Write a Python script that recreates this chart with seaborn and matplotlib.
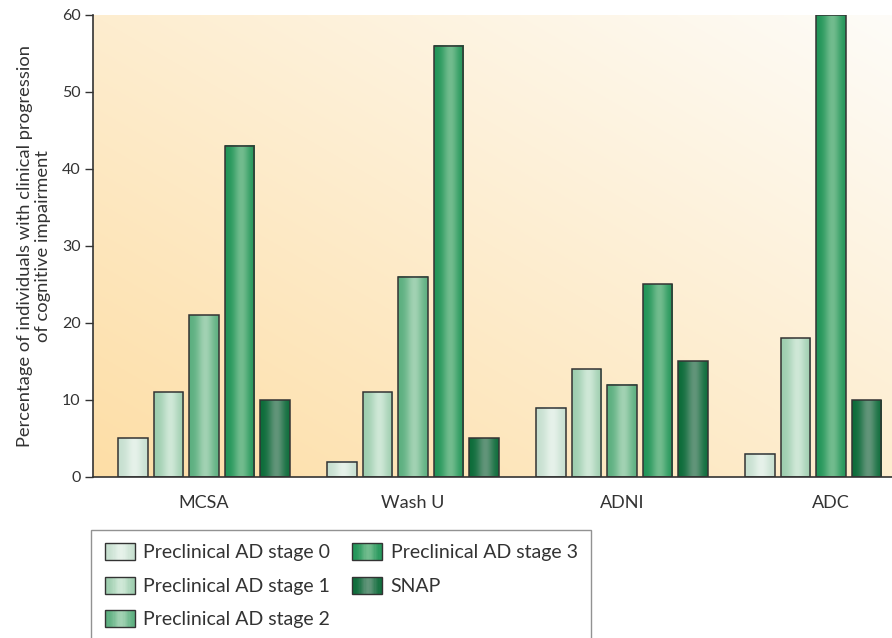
import numpy as np
import pandas as pd
import matplotlib
matplotlib.use('Agg')
import matplotlib.pyplot as plt
import seaborn as sns
from matplotlib.patches import Rectangle
from matplotlib.legend_handler import HandlerBase

# data
cohorts = ['MCSA', 'Wash U', 'ADNI', 'ADC']
stages = ['Preclinical AD stage 0', 'Preclinical AD stage 1', 'Preclinical AD stage 2',
          'Preclinical AD stage 3', 'SNAP']
stage0 = [5, 2, 9, 3]
stage1 = [11, 11, 14, 18]
stage2 = [21, 26, 12, np.nan]   # no stage 2 bar shown for ADC
stage3 = [43, 56, 25, 60]
snap = [10, 5, 15, 10]

# (edge shade, highlight) for each series
shades = [('#c6dfcf', '#e6f2ea'), ('#9dcdae', '#cfe8d7'), ('#5aae7e', '#a2d2b3'),
          ('#1f9457', '#72bc8e'), ('#0a6b38', '#62957a')]

sns.set_style('white')
plt.rcParams['font.family'] = ['Lato', 'DejaVu Sans']

step = 0.17
rows = []
for gi, cohort in enumerate(cohorts):
    vals = [stage0[gi], stage1[gi], stage2[gi], stage3[gi], snap[gi]]
    slot = 0
    for si, v in enumerate(vals):
        if np.isnan(v):
            continue
        rows.append({'pos': round(gi + (slot - 2) * step, 4), 'value': v, 'stage': stages[si]})
        slot += 1
df = pd.DataFrame(rows)

fig = plt.figure(figsize=(8.92, 6.38), dpi=100)
ax = fig.add_axes([0.1043, 0.2524, 0.8957, 0.7241])

palette = {s: c[0] for s, c in zip(stages, shades)}
sns.barplot(data=df, x='pos', y='value', hue='stage', hue_order=stages, palette=palette,
            native_scale=True, dodge=False, width=0.83, legend=False, ax=ax,
            edgecolor='#333333', linewidth=1.1, saturation=1)

xlim = (-0.531, 3.292)
ylim = (0, 60)


def grad_colors(c_edge, c_mid, n=64):
    s = np.linspace(0, 1, n)
    w = np.exp(-((s - 0.55) / 0.28) ** 2)
    a = np.array(matplotlib.colors.to_rgb(c_edge))
    b = np.array(matplotlib.colors.to_rgb(c_mid))
    return a[None, :] * (1 - w[:, None]) + b[None, :] * w[:, None]


# cylinder-like shading in each bar
for p in ax.patches:
    fc = matplotlib.colors.to_hex(p.get_facecolor())
    pair = next(c for c in shades if c[0] == fc)
    img = grad_colors(*pair)[None, :, :]
    x0, w, h = p.get_x(), p.get_width(), p.get_height()
    ax.imshow(img, extent=[x0, x0 + w, 0, h], aspect='auto', zorder=p.get_zorder() + 0.1,
              interpolation='bilinear')
    p.set_facecolor('none')
    p.set_zorder(p.get_zorder() + 0.2)

# diagonal background wash
u = np.linspace(0, 1, 200)
U, V = np.meshgrid(u, u[::-1])
t = ((U + V) / 2)[:, :, None]
c0 = np.array([253, 222, 166]) / 255
c1 = np.array([254, 252, 248]) / 255
ax.imshow(c0 * (1 - t) + c1 * t, extent=[xlim[0], xlim[1], ylim[0], ylim[1]],
          aspect='auto', zorder=0)

ax.set_xlim(*xlim)
ax.set_ylim(*ylim)
ax.set_xticks(range(len(cohorts)))
ax.set_xticklabels(cohorts, fontsize=13, color='#333333')
ax.set_yticks(range(0, 61, 10))
ax.tick_params(axis='y', length=6, width=1, color='#333333', labelsize=11.5,
               labelcolor='#333333', pad=3, direction='out', left=True)
ax.tick_params(axis='x', length=0, pad=13)
ax.set_xlabel('')
ax.set_ylabel('Percentage of individuals with clinical progression\nof cognitive impairment',
              fontsize=13.2, color='#333333', labelpad=8, linespacing=1.1)
for side in ['top', 'right']:
    ax.spines[side].set_visible(False)
for side in ['left', 'bottom']:
    ax.spines[side].set_color('#333333')
    ax.spines[side].set_linewidth(1.2)
    ax.spines[side].set_zorder(5)


class GradHandler(HandlerBase):
    def __init__(self, pair):
        super().__init__()
        self.pair = pair

    def create_artists(self, legend, orig, xd, yd, width, height, fontsize, trans):
        cols = grad_colors(*self.pair, n=24)
        arts = []
        sw = width / len(cols)
        for i, c in enumerate(cols):
            arts.append(Rectangle((-xd + i * sw, -yd), sw * 1.05, height, facecolor=c,
                                  edgecolor='none', transform=trans))
        arts.append(Rectangle((-xd, -yd), width, height, facecolor='none',
                              edgecolor='#333333', lw=1, transform=trans))
        return arts


handles = [Rectangle((0, 0), 1, 1, label=s) for s in stages]
hmap = {h: GradHandler(c) for h, c in zip(handles, shades)}
leg = fig.legend(handles=handles, labels=stages, handler_map=hmap, ncol=2,
                 loc='upper left', bbox_to_anchor=(0.102, 0.17), fontsize=14,
                 frameon=True, fancybox=False, handlelength=1.55, handleheight=0.95,
                 borderpad=0.7, labelspacing=0.8, columnspacing=1.1, handletextpad=0.45,
                 borderaxespad=0, labelcolor='#333333')
leg.get_frame().set_edgecolor('#777777')
leg.get_frame().set_linewidth(1)

fig.savefig('out.png', dpi=100)
